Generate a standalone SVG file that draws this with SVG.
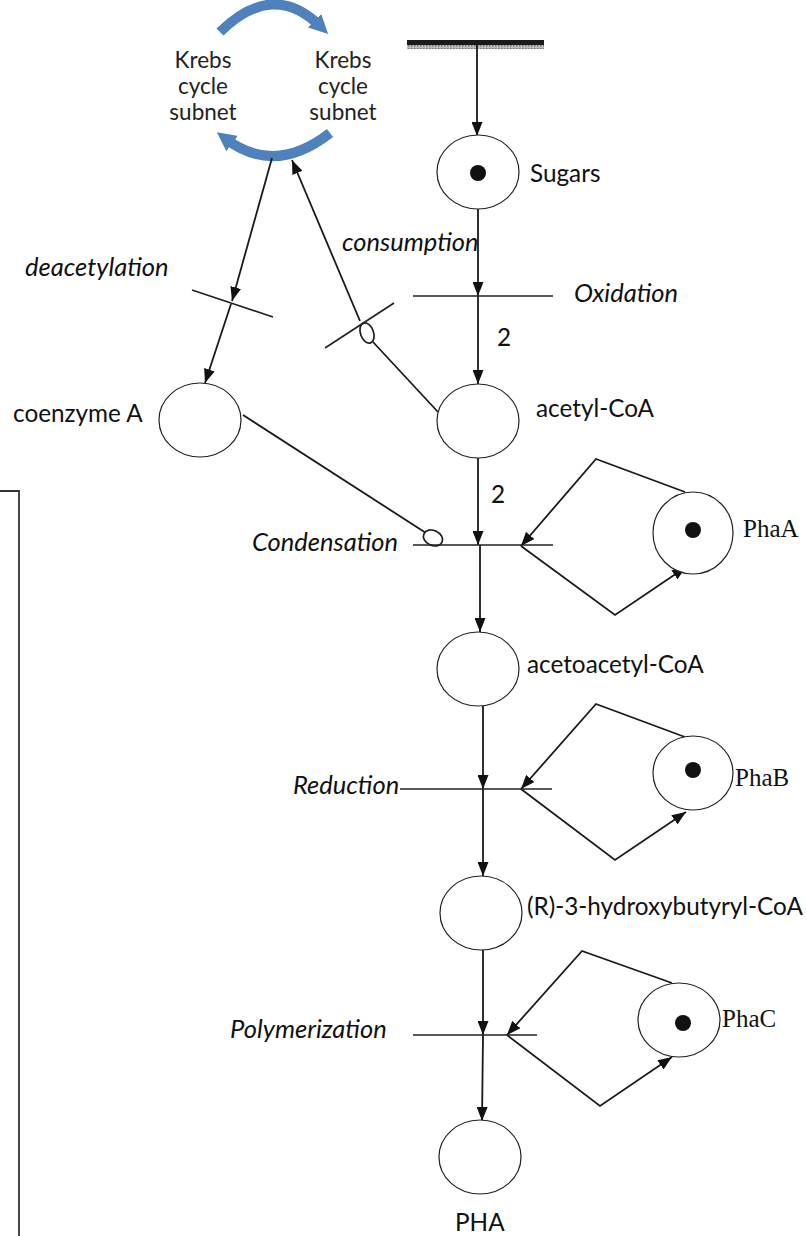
<svg xmlns="http://www.w3.org/2000/svg" width="807" height="1236" viewBox="0 0 807 1236">
  <defs>
    <style>
      .place { fill: #fff; stroke: #222; stroke-width: 1.2; }
      .token { fill: #111; }
      .bar { stroke: #222; stroke-width: 1.7; fill: none; }
      .arc { stroke: #1a1a1a; stroke-width: 1.8; fill: none; }
      .arrow { marker-end: url(#head); }
      .inhib { fill: #fff; stroke: #1a1a1a; stroke-width: 1.7; }
      .krebs { stroke: #4f81bd; stroke-width: 10; fill: none; }
      .lbl { font-family: Lato, "Open Sans", sans-serif; font-size: 24.3px; fill: #111; }
      .it { font-family: Lato, "Open Sans", sans-serif; font-size: 25.5px; font-style: italic; fill: #111; }
      .serif { font-family: "Liberation Serif", serif; font-size: 25px; fill: #111; }
      .kt { font-family: Lato, "Open Sans", sans-serif; font-size: 22.5px; fill: #222; text-anchor: middle; }
    </style>
    <marker id="head" viewBox="0 0 14 11" refX="14" refY="5.5" markerWidth="14" markerHeight="11" markerUnits="userSpaceOnUse" orient="auto">
      <path d="M0,0 L14,5.5 L0,11 Z" fill="#111"/>
    </marker>
    <marker id="bluehead" viewBox="0 0 10 10" refX="4" refY="5" markerWidth="1.9" markerHeight="1.9" orient="auto">
      <path d="M0,0 L10,5 L0,10 Z" fill="#4f81bd"/>
    </marker>
    <pattern id="hatch" width="3" height="3" patternUnits="userSpaceOnUse">
      <rect width="3" height="3" fill="#bbb"/>
      <rect width="1.5" height="1.5" fill="#777"/>
    </pattern>
  </defs>

  <!-- Krebs cycle subnet -->
  <g id="krebs">
    <path class="krebs" d="M220,32 Q273,-20 320,26" marker-end="url(#bluehead)"/>
    <path class="krebs" d="M330,133 Q275,176 226,139" marker-end="url(#bluehead)"/>
    <text class="kt" x="203" y="68">Krebs</text>
    <text class="kt" x="203" y="94">cycle</text>
    <text class="kt" x="203" y="120">subnet</text>
    <text class="kt" x="343" y="68">Krebs</text>
    <text class="kt" x="343" y="94">cycle</text>
    <text class="kt" x="343" y="120">subnet</text>
  </g>

  <!-- source boundary -->
  <g id="source">
    <rect x="407" y="40" width="137" height="5" fill="#1a1a1a"/>
    <rect x="407" y="45" width="137" height="4" fill="url(#hatch)"/>
  </g>

  <!-- left frame -->
  <g id="frame">
    <path d="M0,491 H19 V1236" fill="none" stroke="#333" stroke-width="1.8"/>
  </g>

  <!-- connectors -->
  <g id="connectors">
    <line class="arc arrow" x1="477" y1="45" x2="477" y2="136"/>
    <line class="arc arrow" x1="478" y1="209" x2="478" y2="296"/>
    <line class="arc arrow" x1="478" y1="296" x2="478" y2="384"/>
    <line class="arc arrow" x1="272" y1="158" x2="232" y2="301"/>
    <line class="arc arrow" x1="231" y1="304" x2="205" y2="383"/>
    <line class="arc arrow" x1="360" y1="321" x2="292" y2="160"/>
    <line class="arc" x1="438" y1="412" x2="373" y2="342"/>
    <line class="arc" x1="243" y1="415" x2="426" y2="533"/>
    <line class="arc arrow" x1="478" y1="458" x2="478" y2="545"/>
    <line class="arc arrow" x1="480" y1="545" x2="480" y2="632"/>
    <line class="arc arrow" x1="483" y1="706" x2="483" y2="789"/>
    <line class="arc arrow" x1="483" y1="789" x2="483" y2="876"/>
    <line class="arc arrow" x1="483" y1="950" x2="483" y2="1035"/>
    <line class="arc arrow" x1="483" y1="1035" x2="482" y2="1121"/>
    <!-- enzyme self-loops -->
    <polyline class="arc arrow" points="685,492 596,459 521,546"/>
    <polyline class="arc arrow" points="521,546 615,615 686,567"/>
    <polyline class="arc arrow" points="685,737 596,704 521,789"/>
    <polyline class="arc arrow" points="521,789 615,860 686,812"/>
    <polyline class="arc arrow" points="672,983 582,951 507,1035"/>
    <polyline class="arc arrow" points="507,1035 600,1106 672,1057"/>
    <!-- inhibitor ends -->
    <ellipse class="inhib" cx="367" cy="333" rx="6.5" ry="10.5" transform="rotate(-20 367 333)"/>
    <ellipse class="inhib" cx="433" cy="538" rx="10" ry="7.5" transform="rotate(25 433 538)"/>
  </g>

  <!-- transitions -->
  <g id="t-deacetylation">
    <line class="bar" x1="192" y1="290" x2="273" y2="317"/>
    <text class="it" x="25" y="276">deacetylation</text>
  </g>
  <g id="t-consumption">
    <line class="bar" x1="325" y1="348" x2="394" y2="303"/>
    <text class="it" x="342" y="251">consumption</text>
  </g>
  <g id="t-oxidation">
    <line class="bar" x1="413" y1="296" x2="553" y2="296"/>
    <text class="it" x="574" y="302">Oxidation</text>
    <text class="lbl" x="497" y="346">2</text>
  </g>
  <g id="t-condensation">
    <line class="bar" x1="413" y1="545" x2="553" y2="545"/>
    <text class="it" x="252" y="551">Condensation</text>
    <text class="lbl" x="491" y="503">2</text>
  </g>
  <g id="t-reduction">
    <line class="bar" x1="400" y1="789" x2="552" y2="789"/>
    <text class="it" x="293" y="794">Reduction</text>
  </g>
  <g id="t-polymerization">
    <line class="bar" x1="413" y1="1035" x2="537" y2="1035"/>
    <text class="it" x="230" y="1038">Polymerization</text>
  </g>

  <!-- places -->
  <g id="p-sugars">
    <ellipse class="place" cx="478" cy="172" rx="41" ry="37"/>
    <circle class="token" cx="478" cy="173" r="8"/>
    <text class="lbl" x="530" y="182">Sugars</text>
  </g>
  <g id="p-coenzymeA">
    <ellipse class="place" cx="200" cy="420" rx="41" ry="37"/>
    <text class="lbl" x="13" y="422">coenzyme A</text>
  </g>
  <g id="p-acetylCoA">
    <ellipse class="place" cx="478" cy="421" rx="41" ry="37"/>
    <text class="lbl" x="536" y="417">acetyl-CoA</text>
  </g>
  <g id="p-PhaA">
    <ellipse class="place" cx="693" cy="533" rx="40" ry="41"/>
    <circle class="token" cx="693" cy="530" r="8"/>
    <text class="serif" x="743" y="537">PhaA</text>
  </g>
  <g id="p-acetoacetylCoA">
    <ellipse class="place" cx="478" cy="669" rx="41" ry="37"/>
    <text class="lbl" x="527" y="673">acetoacetyl-CoA</text>
  </g>
  <g id="p-PhaB">
    <ellipse class="place" cx="693" cy="773" rx="40" ry="37"/>
    <circle class="token" cx="693" cy="770" r="8"/>
    <text class="serif" x="735" y="786">PhaB</text>
  </g>
  <g id="p-hydroxybutyrylCoA">
    <ellipse class="place" cx="481" cy="913" rx="41" ry="37"/>
    <text class="lbl" x="527" y="915">(R)-3-hydroxybutyryl-CoA</text>
  </g>
  <g id="p-PhaC">
    <ellipse class="place" cx="679" cy="1020" rx="41" ry="37"/>
    <circle class="token" cx="683" cy="1023" r="8"/>
    <text class="serif" x="722" y="1027">PhaC</text>
  </g>
  <g id="p-PHA">
    <ellipse class="place" cx="480" cy="1157" rx="41" ry="37"/>
    <text class="lbl" x="455" y="1231">PHA</text>
  </g>
</svg>
